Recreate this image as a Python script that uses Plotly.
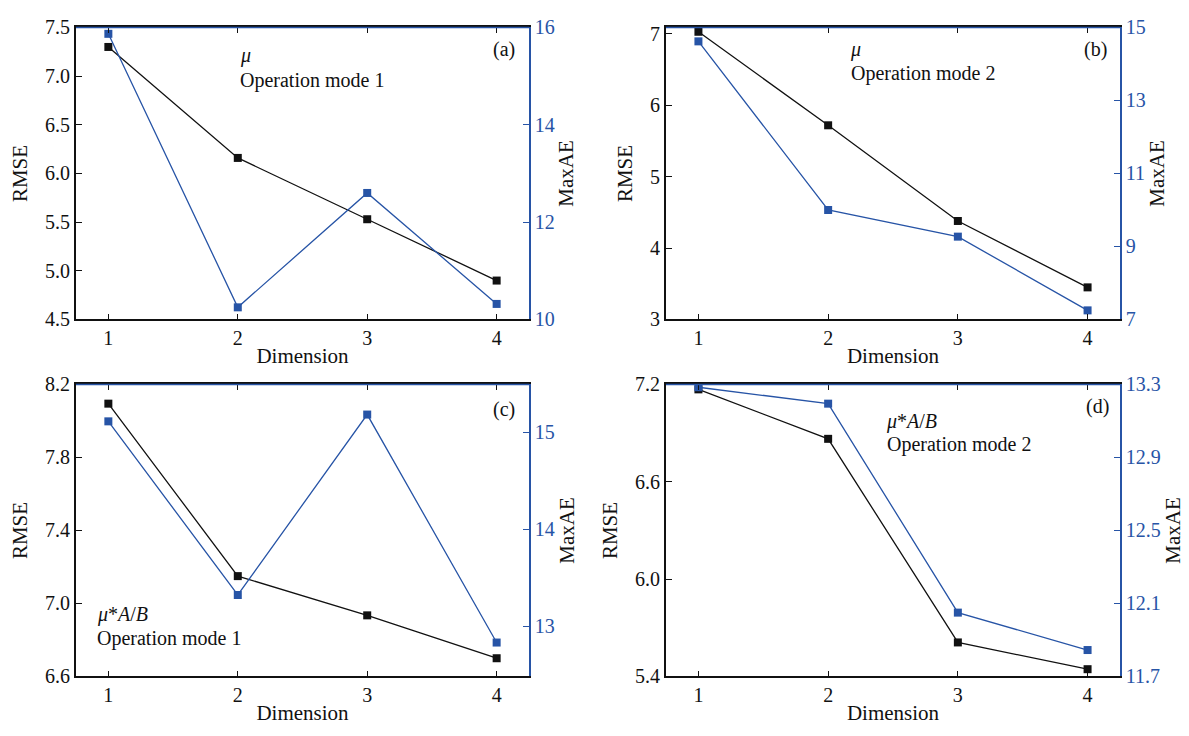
import plotly.graph_objects as go

W, H = 1189, 736

dims = [1, 2, 3, 4]
x_ticks = [1, 2, 3, 4]

rmse_a = [7.30, 6.16, 5.53, 4.90]
maxae_a = [15.87, 10.25, 12.60, 10.32]
rmse_b = [7.03, 5.72, 4.38, 3.45]
maxae_b = [14.62, 10.00, 9.27, 7.25]
rmse_c = [8.095, 7.15, 6.935, 6.70]
maxae_c = [15.11, 13.32, 15.18, 12.83]
rmse_d = [7.17, 6.865, 5.61, 5.445]
maxae_d = [13.285, 13.195, 12.05, 11.845]

rmse_ticks_a = [4.5, 5.0, 5.5, 6.0, 6.5, 7.0, 7.5]
maxae_ticks_a = [10, 12, 14, 16]
rmse_ticks_b = [3, 4, 5, 6, 7]
maxae_ticks_b = [7, 9, 11, 13, 15]
rmse_ticks_c = [6.6, 7.0, 7.4, 7.8, 8.2]
maxae_ticks_c = [13, 14, 15]
rmse_ticks_d = [5.4, 6.0, 6.6, 7.2]
maxae_ticks_d = [11.7, 12.1, 12.5, 12.9, 13.3]

labels = ["(a)", "(b)", "(c)", "(d)"]
var_names = ["μ", "μ", "μ*A/B", "μ*A/B"]
modes = ["Operation mode 1", "Operation mode 2", "Operation mode 1", "Operation mode 2"]

BLUE = "#2754a6"
BLACK = "#111111"
FONT = "Liberation Serif, Times New Roman, serif"
FS = 20
TFS = 21

def px(x):
    return x / W

def py(y):
    return 1 - y / H

# panel boxes in pixels: left, right, top, bottom
boxes = [(76, 529, 17, 318), (666, 1120, 17, 318), (76, 529, 385, 686), (666, 1120, 385, 686)]
panels = [
    (rmse_a, maxae_a, [4.5, 7.5], [10, 16], rmse_ticks_a, maxae_ticks_a, ".1f", "d"),
    (rmse_b, maxae_b, [3, 7.09], [7, 15], rmse_ticks_b, maxae_ticks_b, "d", "d"),
    (rmse_c, maxae_c, [6.6, 8.2], [12.48, 15.49], rmse_ticks_c, maxae_ticks_c, ".1f", "d"),
    (rmse_d, maxae_d, [5.4, 7.2], [11.7, 13.3], rmse_ticks_d, maxae_ticks_d, ".1f", ".1f"),
]
# annotation positions in pixels: label right edge / y, var left x / y, mode left x / y
ann_pos = [
    ((517, 40), (238, 46), (238, 72)),
    ((1109, 40), (848, 40), (849, 64)),
    ((517, 411), (95, 622), (95, 647)),
    ((1111, 408), (884, 423), (885, 447)),
]

fig = go.Figure()
layout = dict(
    width=W, height=H, margin=dict(l=0, r=0, t=0, b=0),
    paper_bgcolor="white", plot_bgcolor="white", showlegend=False,
    font=dict(family=FONT, size=FS, color=BLACK),
)
annotations = []
shapes = []

for i, (rm, ma, rr, mr, rt, mt, rf, mf) in enumerate(panels):
    xa = "x" if i == 0 else f"x{i+1}"
    yl = f"y{2*i+1}" if i > 0 else "y"
    yr = f"y{2*i+2}"
    l, r, t, b = boxes[i]
    xdom = [px(l), px(r)]
    ydom = [py(b), py(t)]
    fig.add_trace(go.Scatter(x=dims, y=rm, xaxis=xa, yaxis=yl, mode="lines+markers",
                             line=dict(color=BLACK, width=1.3),
                             marker=dict(symbol="square", size=8, color=BLACK),
                             cliponaxis=False))
    fig.add_trace(go.Scatter(x=dims, y=ma, xaxis=xa, yaxis=yr, mode="lines+markers",
                             line=dict(color=BLUE, width=1.3),
                             marker=dict(symbol="square", size=8, color=BLUE),
                             cliponaxis=False))
    xkey = "xaxis" if i == 0 else f"xaxis{i+1}"
    ylkey = "yaxis" if i == 0 else f"yaxis{2*i+1}"
    yrkey = f"yaxis{2*i+2}"
    layout[xkey] = dict(
        domain=xdom, anchor=yl, range=[0.75, 4.25], tickvals=x_ticks,
        ticks="inside", ticklen=6, tickcolor=BLACK, showline=True, linecolor=BLACK,
        linewidth=1.5, mirror="ticks", showgrid=False, zeroline=False,
        tickfont=dict(size=FS, color=BLACK),
        title=dict(text="Dimension", standoff=0, font=dict(size=TFS)),
    )
    layout[ylkey] = dict(
        domain=ydom, anchor=xa, range=rr, tickvals=rt, tickformat=rf,
        ticks="inside", ticklen=6, tickcolor=BLACK, showline=True, linecolor=BLACK,
        linewidth=2, showgrid=False, zeroline=False,
        tickfont=dict(size=FS, color=BLACK),
        title=dict(text="RMSE", standoff=12, font=dict(size=TFS)),
    )
    layout[yrkey] = dict(
        overlaying=yl, anchor=xa, side="right", range=mr, tickvals=mt, tickformat=mf,
        ticks="inside", ticklen=6, tickcolor=BLUE, showline=True, linecolor=BLUE,
        linewidth=1.5, showgrid=False, zeroline=False,
        tickfont=dict(size=FS, color=BLUE),
        title=dict(text="MaxAE", standoff=5, font=dict(size=TFS, color=BLACK)),
    )
    shapes.append(dict(type="line", xref="paper", yref="paper", x0=xdom[0], x1=xdom[1],
                       y0=ydom[1], y1=ydom[1], line=dict(color=BLUE, width=1.5), layer="above"))
    (lx, ly), (vx, vy), (mx, my) = ann_pos[i]
    annotations.append(dict(text=labels[i], x=px(lx), y=py(ly), xref="paper", yref="paper",
                            xanchor="right", yanchor="middle", showarrow=False,
                            font=dict(size=FS, color=BLACK)))
    var_txt = "<i>μ</i>" if var_names[i] == "μ" else "<i>μ</i>*<i>A</i>/<i>B</i>"
    annotations.append(dict(text=var_txt, x=px(vx), y=py(vy), xref="paper", yref="paper",
                            xanchor="left", yanchor="middle", showarrow=False,
                            font=dict(size=FS, color=BLACK)))
    annotations.append(dict(text=modes[i], x=px(mx), y=py(my), xref="paper", yref="paper",
                            xanchor="left", yanchor="middle", showarrow=False,
                            font=dict(size=FS, color=BLACK)))

layout["annotations"] = annotations
layout["shapes"] = shapes
fig.update_layout(**layout)
fig.write_html("out.html")
